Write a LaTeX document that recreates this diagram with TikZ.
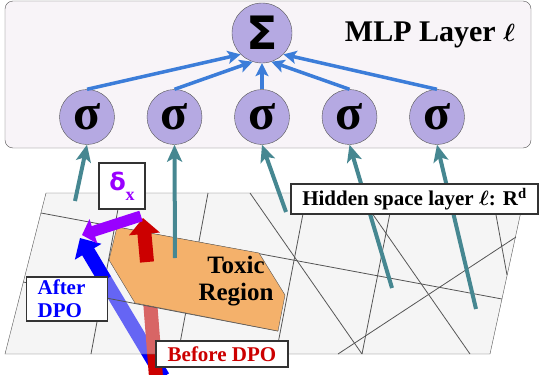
\documentclass[tikz,border=0pt]{standalone}
\usepackage{fontspec}
\setmainfont{Liberation Serif}
\newfontfamily\symsans{DejaVu Sans}
\usetikzlibrary{arrows.meta}

\definecolor{boxfill}{HTML}{F8F4F8}
\definecolor{neuronfill}{HTML}{B5A9E2}
\definecolor{sumblue}{HTML}{3C7DD9}
\definecolor{tealarrow}{HTML}{468791}
\definecolor{planegray}{HTML}{E8E8E8}
\definecolor{toxicfill}{HTML}{F4B16B}
\definecolor{edgegray}{HTML}{555555}
\definecolor{dpored}{HTML}{CC0000}
\definecolor{dpoblue}{HTML}{0000FF}
\definecolor{deltapurple}{HTML}{9900FF}

\tikzset{
  neuron/.style={circle, draw=edgegray, fill=neuronfill, minimum size=55pt, inner sep=0pt,
    font=\bfseries\fontsize{50}{50}\selectfont},
  sumnode/.style={circle, draw=edgegray, fill=neuronfill, minimum size=60pt, inner sep=0pt,
    font=\symsans\bfseries\fontsize{46}{46}\selectfont},
  sumarrow/.style={sumblue, line width=3.5pt, -{Stealth[length=13pt,width=13pt,inset=3pt]}},
  inarrow/.style={tealarrow, line width=4pt, -{Stealth[length=17pt,width=15pt,inset=4pt]}},
  gridline/.style={edgegray, line width=0.8pt},
  labelbox/.style={draw=black!80, line width=1.2pt, fill=white, inner sep=0pt,
    font=\bfseries\fontsize{21}{23}\selectfont},
  fatarrow/.style={line width=14pt, -{Triangle[length=16pt,width=30pt]}}
}

\begin{document}
\begin{tikzpicture}[x=1pt,y=-1pt]
    \useasboundingbox (0,0) rectangle (539,375);

    % MLP layer box
    \draw[edgegray, fill=boxfill, rounded corners=8pt] (5,1) rectangle (531,148);
    \node[anchor=base, font=\bfseries\fontsize{30}{32}\selectfont] (mlplabel) at (430,41) {MLP Layer {\boldmath$\ell$}};

    % Sum and activation neurons
    \node[sumnode] (sum) at (262,33) {Σ};
    \node[neuron] (s1) at (87,117) {σ};
    \node[neuron] (s2) at (174.5,117) {σ};
    \node[neuron] (s3) at (262,117) {σ};
    \node[neuron] (s4) at (349.5,117) {σ};
    \node[neuron] (s5) at (437,117) {σ};

    % Arrows into the sum
    \draw[sumarrow] (s1.north) -- (sum.225);
    \draw[sumarrow] (s2.north) -- (sum.252);
    \draw[sumarrow] (s3.north) -- (sum.south);
    \draw[sumarrow] (s4.north) -- (sum.288);
    \draw[sumarrow] (s5.north) -- (sum.315);

    % DPO arrows, lower parts (faded by the plane)
    \coordinate (bluestart) at (163,377);
    \coordinate (bluecross) at (105,280);
    \coordinate (bluetip) at (80,238);
    \coordinate (redstart) at (156,377);
    \coordinate (redcross) at (147,262);
    \coordinate (redtip) at (143,218);
    \draw[dpoblue, line width=14pt] (bluestart) -- (bluecross);
    \draw[dpored, line width=14pt] (redstart) -- (redcross);

    % Hidden space plane
    \fill[planegray, fill opacity=0.44] (46,193) -- (525,193) -- (490,354) -- (5,354) -- cycle;
    \draw[edgegray] (46,193) -- (525,193) -- (490,354) -- (5,354) -- cycle;

    % Lines cutting the plane
    \draw[gridline] (41,213) -- (502,299);
    \draw[gridline] (23,282) -- (278,331);
    \draw[gridline] (121,193) -- (91,354);
    \draw[gridline] (208,193) -- (178,354);
    \draw[gridline] (250,193) -- (362,354);
    \draw[gridline] (307,193) -- (276,354);
    \draw[gridline] (394,193) -- (362,354);
    \draw[gridline] (358,193) -- (470,354);
    \draw[gridline] (492,193) -- (507,275);
    \draw[gridline] (338,354) -- (516,237);

    % Toxic region
    \filldraw[fill=toxicfill, draw=edgegray] (117,227) -- (259,253) -- (285,295) -- (278,331) -- (135,303) -- (109,260) -- cycle;
    \node[align=center, font=\bfseries\fontsize{25}{27}\selectfont] (toxiclabel) at (236,281) {Toxic\\Region};

    % DPO arrows, upper parts
    \draw[fatarrow, dpored] (redcross) -- (redtip);
    \draw[fatarrow, dpoblue] (bluecross) -- (bluetip);

    % Shift delta_x
    \coordinate (deltastart) at (141,216);
    \coordinate (deltatip) at (82,235);
    \draw[deltapurple, line width=11pt, -{Triangle[length=12pt,width=25pt]}] (deltastart) -- (deltatip);

    % Hidden states into the neurons
    \coordinate (h1) at (75,201);
    \coordinate (h2) at (175,258);
    \coordinate (h3) at (286,212);
    \coordinate (h4) at (392,288);
    \coordinate (h5) at (476,309);
    \draw[inarrow] (h1) -- (s1.south);
    \draw[inarrow] (h2) -- (s2.south);
    \draw[inarrow] (h3) -- (s3.south);
    \draw[inarrow] (h4) -- (s4.south);
    \draw[inarrow] (h5) -- (s5.south);

    % Labels
    \node[labelbox, minimum width=46pt, minimum height=46pt, text=deltapurple] (deltalabel) at (122,186)
        {{\symsans\bfseries\fontsize{24}{24}\selectfont δ}\raisebox{-10pt}{\fontsize{18}{18}\selectfont x}};
    \node[labelbox, anchor=west, text width=59pt, inner xsep=11pt, minimum height=44pt, align=left, text=dpoblue] (afterlabel) at (26,299) {After\\DPO};
    \node[labelbox, minimum width=132pt, minimum height=26pt, text=dpored] (beforelabel) at (222,354) {Before DPO};
    \node[labelbox, minimum width=247pt, minimum height=30pt] (hiddenlabel) at (414.5,199) {Hidden space layer {\boldmath$\ell$}: R\textsuperscript{d}};
\end{tikzpicture}
\end{document}
